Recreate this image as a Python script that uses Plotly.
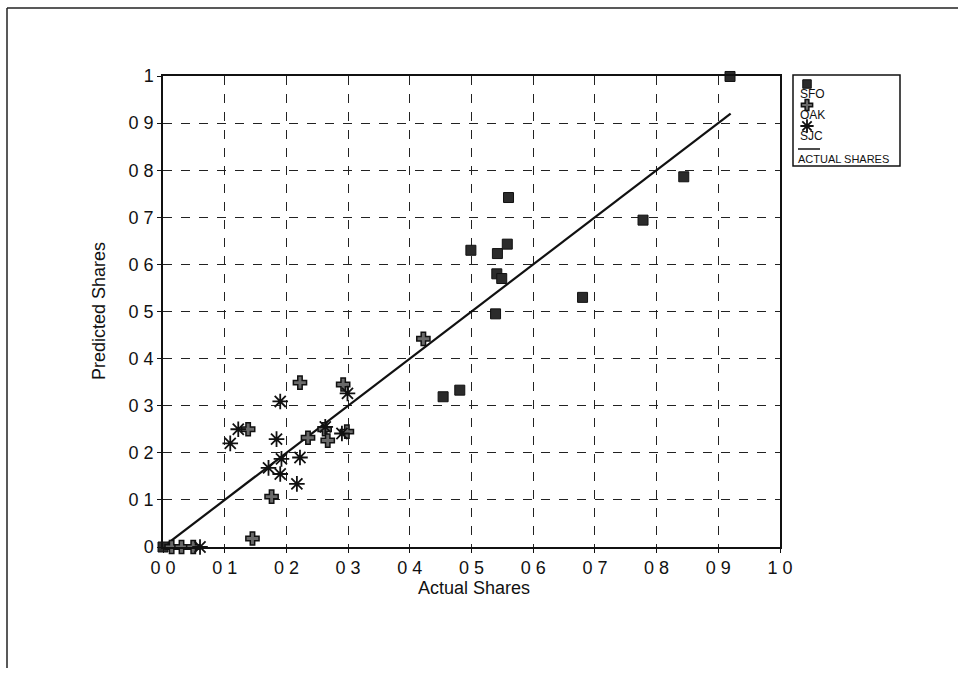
import plotly.graph_objects as go

W, H = 967, 673

# ---- data ----
sfo_x = [0.000, 0.454, 0.481, 0.499, 0.539, 0.541, 0.549, 0.542, 0.558, 0.560, 0.680, 0.778, 0.844, 0.919]
sfo_y = [0.000, 0.319, 0.333, 0.630, 0.495, 0.580, 0.570, 0.623, 0.643, 0.742, 0.530, 0.694, 0.786, 0.999]

oak_x = [0.014, 0.030, 0.049, 0.145, 0.176, 0.138, 0.235, 0.262, 0.267, 0.298, 0.222, 0.292, 0.422]
oak_y = [0.000, 0.000, 0.000, 0.018, 0.107, 0.250, 0.232, 0.250, 0.226, 0.245, 0.349, 0.345, 0.442]

sjc_x = [0.060, 0.109, 0.122, 0.184, 0.171, 0.190, 0.192, 0.217, 0.222, 0.263, 0.290, 0.299, 0.190]
sjc_y = [0.000, 0.220, 0.250, 0.229, 0.168, 0.155, 0.187, 0.134, 0.190, 0.255, 0.241, 0.326, 0.309]

actual_x = [0.0, 0.92]
actual_y = [0.0, 0.92]

tick_vals = [i / 10 for i in range(11)]
x_tick_text = ["0 0", "0 1", "0 2", "0 3", "0 4", "0 5", "0 6", "0 7", "0 8", "0 9", "1 0"]
y_tick_text = ["0", "0 1", "0 2", "0 3", "0 4", "0 5", "0 6", "0 7", "0 8", "0 9", "1"]

series_names = ["SFO", "OAK", "SJC"]
line_name = "ACTUAL SHARES"

# ---- styles ----
FONT = "Liberation Sans, Arial, sans-serif"
styles = {
    "SFO": dict(symbol="square", size=10, color="#2b2b2b", line=dict(color="#111", width=1)),
    "OAK": dict(symbol="cross", size=11, color="#6a6a6a", line=dict(color="#111", width=1.5)),
    "SJC": dict(symbol="asterisk-open", size=13, color="#111", line=dict(color="#111", width=1.8)),
}

# plot area in pixels
PL, PR, PT, PB = 163, 780, 76, 547

fig = go.Figure()
fig.add_trace(go.Scatter(x=actual_x, y=actual_y, mode="lines",
                         line=dict(color="#111", width=2.2), name=line_name, showlegend=False))
for nm, xs, ys in [("SFO", sfo_x, sfo_y), ("OAK", oak_x, oak_y), ("SJC", sjc_x, sjc_y)]:
    fig.add_trace(go.Scatter(x=xs, y=ys, mode="markers", marker=styles[nm], name=nm,
                             showlegend=False, cliponaxis=False))

# ---- custom legend (symbol above label), drawn on a pixel overlay axis ----
LX0, LX1, LY0, LY1 = 793, 900, 75, 166
for i, nm in enumerate(series_names):
    my = 84 + i * 21
    st = dict(styles[nm])
    st["size"] = st["size"] * 0.85
    fig.add_trace(go.Scatter(x=[807], y=[my], mode="markers", marker=st,
                             xaxis="x2", yaxis="y2", showlegend=False, hoverinfo="skip"))
    fig.add_annotation(x=798 / W, y=1 - (my + 10) / H, xref="paper", yref="paper",
                       text=nm, showarrow=False, xanchor="left", yanchor="middle",
                       font=dict(family=FONT, size=12, color="#111"))
fig.add_trace(go.Scatter(x=[798, 820], y=[149, 149], mode="lines", line=dict(color="#111", width=1.5),
                         xaxis="x2", yaxis="y2", showlegend=False, hoverinfo="skip"))
fig.add_annotation(x=796 / W, y=1 - 159 / H, xref="paper", yref="paper", text=line_name,
                   showarrow=False, xanchor="left", yanchor="middle",
                   font=dict(family=FONT, size=11, color="#111"))

shapes = [
    dict(type="rect", xref="paper", yref="paper", x0=LX0 / W, x1=LX1 / W,
         y0=1 - LY1 / H, y1=1 - LY0 / H, line=dict(color="#111", width=1.5)),
    # page frame (top and left edges)
    dict(type="line", xref="paper", yref="paper", x0=7 / W, x1=958 / W, y0=1 - 8 / H, y1=1 - 8 / H,
         line=dict(color="#222", width=1.5)),
    dict(type="line", xref="paper", yref="paper", x0=7 / W, x1=7 / W, y0=1 - 8 / H, y1=1 - 668 / H,
         line=dict(color="#222", width=1.5)),
]

axis_common = dict(
    range=[0, 1], tickvals=tick_vals, showgrid=True, gridcolor="#222", gridwidth=1, griddash="dash",
    showline=True, linecolor="#111", linewidth=1.5, mirror=True, zeroline=False,
    ticks="outside", ticklen=4, tickcolor="#111",
    tickfont=dict(family=FONT, size=18, color="#111"), automargin=False, fixedrange=True,
)

fig.update_layout(
    width=W, height=H, margin=dict(l=0, r=0, t=0, b=0),
    paper_bgcolor="white", plot_bgcolor="rgba(0,0,0,0)",
    xaxis=dict(axis_common, domain=[PL / W, PR / W], ticktext=x_tick_text),
    yaxis=dict(axis_common, domain=[1 - PB / H, 1 - PT / H], ticktext=y_tick_text),
    xaxis2=dict(domain=[0, 1], range=[0, W], visible=False, anchor="y2", fixedrange=True),
    yaxis2=dict(domain=[0, 1], range=[H, 0], visible=False, anchor="x2", fixedrange=True),
    shapes=shapes,
    showlegend=False,
)
fig.add_annotation(x=474 / W, y=1 - 588 / H, xref="paper", yref="paper", text="Actual Shares",
                   xanchor="center", yanchor="middle",
                   showarrow=False, font=dict(family=FONT, size=18, color="#111"))
fig.add_annotation(x=99 / W, y=1 - 311 / H, xref="paper", yref="paper", text="Predicted Shares",
                   xanchor="center", yanchor="middle",
                   showarrow=False, textangle=-90, font=dict(family=FONT, size=18, color="#111"))

fig.write_html("out.html")
